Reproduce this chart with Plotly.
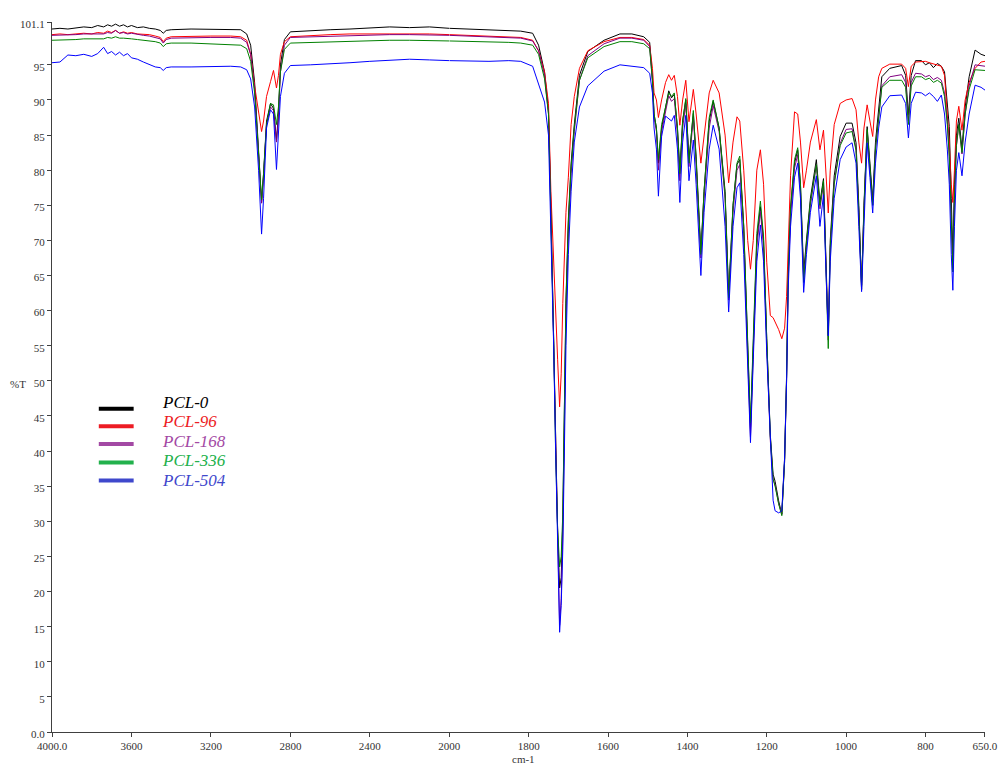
import numpy as np
import plotly.graph_objects as go

# Wavenumbers (cm-1), grouped by region
wn = (
    [4000, 3960, 3920, 3880, 3840, 3800, 3770, 3740, 3720, 3700, 3680, 3660, 3640, 3620,
     3600, 3570, 3540, 3510, 3480, 3455, 3440, 3425, 3400, 3300, 3200, 3100, 3050, 3020]
    + [3000, 2980, 2960, 2945, 2935, 2920, 2900, 2885, 2870, 2860, 2850, 2830, 2800]
    + [2700, 2600, 2500, 2400, 2300, 2200, 2100, 2000, 1900, 1850, 1820, 1790]
    + [1775, 1760, 1750, 1744, 1737, 1732, 1727, 1722, 1718, 1714, 1710, 1706, 1700, 1693,
       1685, 1672, 1651, 1610, 1570, 1540, 1510]
    + [1495, 1488, 1484, 1478, 1473, 1465, 1455, 1447, 1440, 1433, 1425, 1419, 1412, 1404,
       1396, 1385, 1378, 1366, 1358, 1345]
    + [1335, 1320, 1305, 1296, 1285, 1275, 1268, 1258, 1248, 1241, 1234, 1225, 1216, 1208]
    + [1200, 1191, 1184, 1179, 1170, 1162, 1155, 1150, 1146, 1140, 1130, 1122, 1115, 1107]
    + [1100, 1090, 1075, 1066, 1057, 1051, 1045, 1040, 1030, 1015, 1000, 985, 975, 968,
       961, 955, 947, 940]
    + [933, 926, 918, 910, 890, 860, 850, 843, 836, 825, 810, 800, 790, 780, 770, 760,
       752, 745, 740, 735, 731, 727, 722, 716, 708, 700, 690, 675, 660, 650]
)

pcl_0 = (
    [100.1, 100.2, 100.1, 100.3, 100.4, 100.3, 100.6, 100.4, 100.7, 100.5, 100.8, 100.5, 100.7, 100.4,
     100.6, 100.3, 100.4, 100.2, 100.1, 99.9, 99.5, 99.9, 100.0, 100.1, 100.1, 100.1, 100.0, 99.4]
    + [97.8, 92.5, 83.0, 75.4, 79.5, 87.0, 89.5, 88.8, 84.3, 88.0, 95.0, 98.6, 99.7]
    + [99.9, 100.0, 100.1, 100.2, 100.4, 100.3, 100.4, 100.2, 100.0, 99.9, 99.8, 99.5]
    + [97.8, 94.0, 88.5, 75.0, 57.0, 40.0, 28.5, 20.5, 22.0, 30.0, 45.0, 61.5, 73.0, 81.0,
       86.5, 93.5, 96.9, 98.5, 99.4, 99.4, 99.0]
    + [98.2, 93.0, 88.0, 86.0, 81.0, 86.0, 88.8, 91.3, 90.3, 90.8, 86.0, 80.0, 87.0, 90.0,
       81.5, 88.1, 82.0, 68.3, 77.0, 87.0]
    + [89.8, 86.0, 77.0, 62.2, 75.0, 80.8, 81.5, 72.0, 55.0, 43.2, 55.0, 70.0, 74.8, 70.0]
    + [56.0, 42.3, 36.7, 35.7, 32.9, 31.0, 39.0, 50.8, 65.0, 74.4, 81.0, 82.9, 78.0, 65.4]
    + [70.0, 76.0, 81.5, 75.4, 78.8, 68.0, 56.5, 70.0, 79.2, 84.8, 86.7, 86.7, 83.9, 75.0,
       63.6, 75.0, 86.2, 81.0]
    + [75.8, 84.0, 88.6, 93.3, 94.5, 94.9, 93.5, 87.9, 93.5, 95.6, 95.6, 95.0, 95.3, 94.6, 95.2, 94.8,
       94.0, 90.0, 86.2, 76.0, 68.0, 78.0, 85.0, 87.4, 83.1, 89.0, 93.3, 97.1, 96.5, 96.3]
)

pcl_96 = (
    [99.3, 99.4, 99.3, 99.4, 99.5, 99.4, 99.6, 99.5, 99.8, 99.6, 99.9, 99.5, 99.7, 99.5,
     99.6, 99.4, 99.4, 99.3, 99.1, 98.9, 98.3, 98.8, 99.0, 99.1, 99.1, 99.1, 99.0, 98.5]
    + [96.5, 92.0, 88.0, 85.5, 87.0, 90.5, 92.6, 94.2, 91.7, 93.5, 96.5, 98.3, 99.0]
    + [99.2, 99.3, 99.4, 99.4, 99.5, 99.5, 99.4, 99.3, 99.1, 99.0, 98.9, 98.5]
    + [97.0, 94.0, 89.5, 77.0, 66.0, 59.0, 53.0, 46.3, 51.0, 61.0, 69.0, 74.0, 79.0, 86.5,
       90.5, 94.5, 97.0, 98.3, 98.9, 98.9, 98.6]
    + [97.8, 94.5, 91.0, 90.0, 87.5, 90.0, 92.5, 93.6, 92.8, 93.5, 90.5, 86.4, 90.0, 92.8,
       86.9, 91.5, 88.0, 81.0, 85.0, 91.0]
    + [92.8, 91.0, 85.0, 78.2, 84.0, 87.6, 87.0, 80.0, 70.0, 65.9, 70.0, 80.0, 82.9, 78.0]
    + [66.9, 59.3, 59.0, 58.4, 57.3, 56.0, 57.5, 62.0, 70.0, 79.2, 88.3, 88.0, 84.0, 77.5]
    + [80.0, 84.0, 87.2, 82.9, 85.7, 80.0, 73.9, 80.0, 86.5, 89.5, 90.0, 90.2, 88.6, 84.0,
       81.0, 86.0, 89.3, 87.0]
    + [84.8, 90.0, 93.3, 94.5, 95.1, 95.1, 94.5, 91.9, 94.8, 95.4, 95.5, 95.5, 95.3, 95.1, 95.0, 94.8,
       93.5, 88.0, 84.0, 78.0, 75.4, 80.0, 87.0, 89.1, 85.7, 90.0, 92.5, 94.5, 95.4, 95.5]
)

pcl_168 = (
    [99.2, 99.2, 99.3, 99.3, 99.4, 99.4, 99.5, 99.4, 99.6, 99.5, 99.9, 99.5, 99.6, 99.4,
     99.5, 99.3, 99.2, 99.1, 98.9, 98.7, 98.1, 98.6, 98.8, 98.9, 98.9, 98.9, 98.8, 98.2]
    + [96.5, 91.5, 82.5, 75.3, 79.0, 86.5, 89.0, 88.5, 84.0, 87.5, 94.0, 97.8, 98.9]
    + [99.0, 99.1, 99.2, 99.2, 99.3, 99.3, 99.3, 99.2, 99.0, 98.9, 98.8, 98.4]
    + [97.0, 93.5, 88.0, 74.0, 55.0, 38.0, 26.0, 15.2, 19.0, 28.0, 43.0, 59.0, 71.0, 79.5,
       85.5, 92.8, 96.3, 98.0, 98.8, 98.8, 98.5]
    + [97.6, 92.5, 87.5, 85.5, 80.0, 85.5, 88.3, 90.6, 89.8, 90.2, 85.0, 78.5, 86.0, 89.4,
       80.5, 87.5, 81.0, 67.5, 76.0, 86.0]
    + [89.2, 85.5, 76.0, 61.5, 74.0, 80.0, 80.8, 71.0, 53.5, 42.0, 54.0, 69.0, 74.2, 69.0]
    + [55.0, 41.5, 36.0, 35.2, 32.5, 31.0, 38.5, 50.0, 64.0, 73.5, 80.3, 82.2, 77.0, 64.5]
    + [69.0, 75.0, 80.8, 74.5, 78.0, 67.0, 55.8, 69.0, 78.2, 83.8, 85.8, 85.9, 83.0, 74.0,
       63.0, 74.5, 85.5, 80.0]
    + [75.0, 83.0, 87.5, 92.0, 93.3, 93.6, 92.5, 87.0, 92.5, 93.8, 93.7, 93.3, 93.5, 92.9, 93.2, 92.8,
       91.0, 87.0, 82.0, 72.0, 66.0, 76.0, 83.5, 86.5, 82.3, 88.0, 92.0, 95.0, 94.9, 94.8]
)

pcl_336 = (
    [98.5, 98.5, 98.6, 98.6, 98.7, 98.7, 98.8, 98.7, 98.9, 98.8, 99.0, 98.8, 98.8, 98.7,
     98.7, 98.6, 98.5, 98.4, 98.3, 98.1, 97.6, 98.0, 98.1, 98.1, 98.0, 97.9, 97.8, 97.3]
    + [95.5, 91.0, 83.0, 75.8, 79.5, 86.5, 89.5, 89.3, 86.5, 89.0, 94.0, 97.2, 98.1]
    + [98.2, 98.3, 98.4, 98.4, 98.5, 98.5, 98.5, 98.4, 98.3, 98.2, 98.1, 97.8]
    + [96.5, 93.0, 88.0, 74.5, 56.0, 39.5, 29.0, 23.5, 25.0, 31.0, 45.5, 61.0, 72.5, 80.5,
       86.0, 92.8, 96.0, 97.6, 98.3, 98.3, 98.0]
    + [97.3, 92.8, 88.0, 86.0, 81.5, 86.5, 89.2, 91.0, 90.5, 91.0, 86.0, 79.5, 87.0, 90.2,
       81.0, 88.5, 81.5, 68.0, 77.0, 87.5]
    + [90.0, 86.0, 76.5, 61.8, 75.0, 81.0, 82.0, 72.0, 55.5, 44.0, 56.0, 71.0, 75.6, 70.5]
    + [56.0, 42.0, 36.0, 35.0, 32.5, 30.8, 38.5, 50.5, 65.0, 74.8, 81.5, 83.2, 78.0, 64.0]
    + [69.5, 75.5, 80.8, 75.0, 78.5, 67.0, 54.6, 69.0, 78.0, 83.5, 85.3, 85.5, 82.8, 74.0,
       63.0, 74.5, 85.8, 80.5]
    + [75.0, 83.0, 87.5, 91.8, 92.8, 92.8, 91.8, 86.5, 92.0, 93.3, 93.3, 92.9, 93.1, 92.5, 92.8, 92.4,
       90.5, 86.5, 82.0, 71.0, 65.5, 76.0, 83.5, 86.5, 82.5, 88.0, 91.5, 94.3, 94.3, 94.2]
)

pcl_504 = (
    [95.3, 95.4, 96.4, 96.3, 96.5, 96.2, 96.6, 97.5, 96.6, 96.9, 96.4, 96.8, 96.3, 96.6,
     96.0, 95.8, 95.4, 95.0, 94.7, 94.6, 94.2, 94.6, 94.7, 94.7, 94.8, 94.8, 94.7, 94.3]
    + [93.0, 89.0, 80.0, 70.9, 76.0, 86.0, 88.6, 88.0, 80.1, 85.0, 90.5, 93.8, 94.9]
    + [95.0, 95.1, 95.3, 95.5, 95.6, 95.8, 95.7, 95.6, 95.5, 95.6, 95.5, 94.8]
    + [92.4, 89.7, 85.0, 72.0, 55.0, 40.0, 27.0, 14.2, 18.0, 26.0, 40.0, 55.0, 68.0, 77.0,
       84.0, 89.0, 92.0, 94.1, 95.0, 94.8, 94.6]
    + [93.8, 91.0, 86.0, 83.0, 76.3, 84.8, 87.7, 87.3, 87.0, 87.8, 83.0, 75.4, 84.0, 87.8,
       78.5, 84.3, 78.0, 65.0, 74.0, 83.0]
    + [86.4, 83.0, 72.0, 59.8, 72.0, 77.5, 78.2, 68.0, 52.0, 41.2, 53.0, 67.0, 72.2, 67.0]
    + [54.0, 41.0, 33.0, 31.5, 31.2, 31.5, 39.0, 50.0, 63.0, 72.0, 79.0, 81.0, 76.0, 62.6]
    + [68.0, 74.0, 79.2, 72.0, 76.5, 66.0, 56.4, 67.0, 76.0, 81.5, 83.3, 83.9, 81.0, 72.0,
       62.7, 72.0, 83.9, 79.0]
    + [73.9, 81.0, 86.0, 89.0, 90.6, 90.7, 89.5, 84.6, 89.5, 91.1, 91.0, 90.6, 91.0, 90.5, 89.8, 90.7,
       88.0, 83.0, 78.0, 68.0, 62.9, 72.0, 80.0, 82.5, 79.2, 84.0, 88.0, 92.1, 91.8, 91.4]
)

series_names = ["PCL-0", "PCL-96", "PCL-168", "PCL-336", "PCL-504"]
series_values = [pcl_0, pcl_96, pcl_168, pcl_336, pcl_504]

# Tick labels
x1_tickvals = [4000, 3600, 3200, 2800, 2400]
x1_ticktext = ["4000.0", "3600", "3200", "2800", "2400"]
x2_tickvals = [2000, 1800, 1600, 1400, 1200, 1000, 800, 650]
x2_ticktext = ["2000", "1800", "1600", "1400", "1200", "1000", "800", "650.0"]
y_tickvals = [0, 5, 10, 15, 20, 25, 30, 35, 40, 45, 50, 55, 60, 65, 70, 75, 80, 85, 90, 95, 101.1]
y_ticktext = ["0.0", "5", "10", "15", "20", "25", "30", "35", "40", "45", "50", "55", "60",
              "65", "70", "75", "80", "85", "90", "95", "101.1"]

line_colors = ["#000000", "#ff0000", "#800080", "#008000", "#0000ff"]
legend_colors = ["#000000", "#ed1c24", "#a349a4", "#22b14c", "#3f48cc"]

for n, v in zip(series_names, series_values):
    assert len(v) == len(wn), (n, len(v), len(wn))

# The page body has an 8px margin, so the figure starts at page (8, 8).
OFF = 8
W, H = 1000, 761
L, R, T, B = 52 - OFF, 19, 18 - OFF, 37
pw, ph = W - L - R, H - T - B
split_frac = 399 / pw


def px(x):  # page x pixel -> paper fraction
    return (x - OFF - L) / pw


def py(y):  # page y pixel -> paper fraction
    return (H - B - (y - OFF)) / ph


fig = go.Figure()
w_arr = np.array(wn, dtype=float)
hi = w_arr >= 2000
lo = w_arr <= 2000
for name, vals, col in zip(series_names, series_values, line_colors):
    v = np.array(vals, dtype=float)
    fig.add_trace(go.Scatter(x=w_arr[hi], y=v[hi], xaxis="x", yaxis="y", mode="lines",
                             line=dict(color=col, width=1), name=name, showlegend=False))
    fig.add_trace(go.Scatter(x=w_arr[lo], y=v[lo], xaxis="x2", yaxis="y", mode="lines",
                             line=dict(color=col, width=1), name=name, showlegend=False))

tickfont = dict(family="Liberation Serif", size=11, color="#333333")
axis_common = dict(showgrid=False, zeroline=False, showline=True, linecolor="#404040",
                   linewidth=1, ticks="outside", ticklen=4, tickcolor="#404040",
                   tickfont=tickfont, tickmode="array")

fig.update_layout(
    width=W, height=H,
    margin=dict(l=L, r=R, t=T, b=B, pad=0),
    paper_bgcolor="white", plot_bgcolor="white",
    showlegend=False,
    xaxis=dict(domain=[0, split_frac], range=[4000, 2000], anchor="y",
               tickvals=x1_tickvals, ticktext=x1_ticktext, **axis_common),
    xaxis2=dict(domain=[split_frac, 1], range=[2000, 650], anchor="y",
                tickvals=x2_tickvals, ticktext=x2_ticktext, **axis_common),
    yaxis=dict(domain=[0, 1], range=[0, 101.1], anchor="x",
               tickvals=y_tickvals, ticktext=y_ticktext, ticklabelshift=2, **axis_common),
)

# Axis titles
fig.add_annotation(text="cm-1", xref="paper", yref="paper", x=px(526), y=py(759),
                   showarrow=False, xanchor="center", yanchor="middle",
                   font=dict(family="Liberation Serif", size=11, color="#333333"))
fig.add_annotation(text="%T", xref="paper", yref="paper", x=px(18), y=py(382),
                   showarrow=False, xanchor="center", yanchor="middle",
                   font=dict(family="Liberation Serif", size=11, color="#333333"))

# Legend (drawn manually)
leg_line_y = [407, 424.5, 442.5, 461, 479]
leg_text_y = [401, 420, 440, 459, 479]
for name, col, ly, ty in zip(series_names, legend_colors, leg_line_y, leg_text_y):
    fig.add_shape(type="line", xref="paper", yref="paper",
                  x0=px(99), x1=px(134), y0=py(ly), y1=py(ly),
                  line=dict(color=col, width=4))
    fig.add_annotation(text="<i>" + name + "</i>", xref="paper", yref="paper",
                       x=px(160), y=py(ty), showarrow=False,
                       xanchor="left", yanchor="middle",
                       font=dict(family="Liberation Serif", size=17, color=col))

fig.write_html("out.html")
